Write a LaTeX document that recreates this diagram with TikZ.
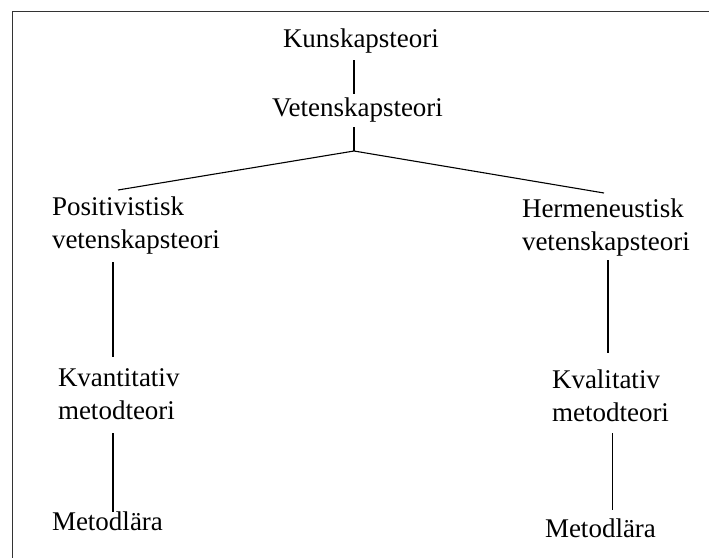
\documentclass[tikz,border=0pt]{standalone}
\usepackage{fontspec}
\setmainfont{Liberation Serif}
\usetikzlibrary{calc}
\begin{document}
\begin{tikzpicture}[x=1pt,y=-1pt,
  lbl/.style={inner sep=0pt,outer sep=0pt,align=left,font=\fontsize{27}{33}\selectfont},
  conn/.style={draw=black,line width=1.1pt},
  frame/.style={draw=black!80,line width=1.6pt}]
\useasboundingbox (0,0) rectangle (709,557);
\draw[frame] (12.5,560) -- (12.5,11.5) -- (712,11.5);
\node[lbl,anchor=base west] (K) at (283,47) {Kunskapsteori};
\node[lbl,anchor=base west] (V) at (272,116) {Vetenskapsteori};
\node[lbl,anchor=north west] (P) at (52,196.6) {Positivistisk\\vetenskapsteori};
\node[lbl,anchor=north west] (H) at (522,198.6) {Hermeneustisk\\vetenskapsteori};
\node[lbl,anchor=north west] (Kv) at (58,368.6) {Kvantitativ\\metodteori};
\node[lbl,anchor=north west] (Kl) at (552,369.6) {Kvalitativ\\metodteori};
\node[lbl,anchor=base west] (M1) at (52,530) {Metodlära};
\node[lbl,anchor=base west] (M2) at (545,537) {Metodlära};
\coordinate (j) at (354,151);
\draw[conn] ($(K.base west)+(71,13)$) -- ($(V.base west)+(82,-22)$);
\draw[conn] ($(V.base west)+(82,11)$) -- (j);
\draw[conn] (j) -- ($(P.north west)+(66,-6.6)$);
\draw[conn] (j) -- ($(H.north west)+(82,-5.6)$);
\draw[conn] ($(P.north west)+(61,65.4)$) -- ($(Kv.north west)+(55,-11.6)$);
\draw[conn] ($(H.north west)+(86,61.4)$) -- ($(Kl.north west)+(56,-16.6)$);
\draw[conn] ($(Kv.north west)+(55,64.4)$) -- ($(M1.base west)+(61,-18)$);
\draw[conn] ($(Kl.north west)+(60.5,63.4)$) -- ($(M2.base west)+(67.5,-27)$);
\end{tikzpicture}
\end{document}
